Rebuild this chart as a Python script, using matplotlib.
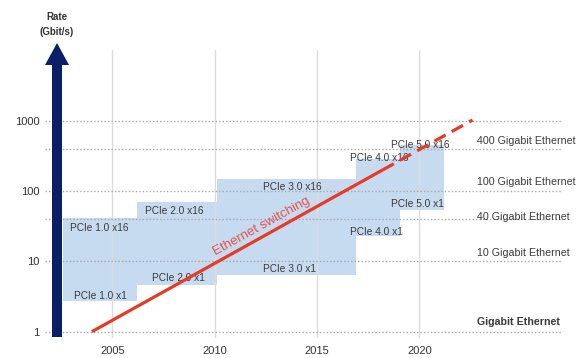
import matplotlib
matplotlib.use("Agg")
import matplotlib.pyplot as plt
from matplotlib.patches import Polygon

plt.rcParams['font.family'] = ['Liberation Sans', 'DejaVu Sans']

# ---- data ----
gen_edges = [2002.6, 2006.2, 2010.1, 2016.9, 2019.05, 2021.2]   # PCIe generation start years
x1_rate = [2.7, 4.6, 6.3, 23, 54]          # PCIe x1 bandwidth (Gbit/s)
x16_rate = [41, 70, 148, 290, 450]         # PCIe x16 bandwidth (Gbit/s)

eth_years_solid = [2004.0, 2018.2]
eth_rate_solid = [1, 199]
eth_years_dash = [2018.2, 2022.6]
eth_rate_dash = [199, 1023]

eth_levels = [1, 10, 40, 100, 400, 1000]
eth_labels = ["Gigabit Ethernet", "10 Gigabit Ethernet", "40 Gigabit Ethernet",
              "100 Gigabit Ethernet", "400 Gigabit Ethernet"]
eth_label_vals = [1.39, 13.3, 42.4, 136, 515]

pcie_labels = ["PCIe 1.0 x16", "PCIe 1.0 x1", "PCIe 2.0 x16", "PCIe 2.0 x1",
               "PCIe 3.0 x16", "PCIe 3.0 x1", "PCIe 4.0 x16", "PCIe 4.0 x1",
               "PCIe 5.0 x16", "PCIe 5.0 x1"]
pcie_label_x = [2002.93, 2003.13, 2006.6, 2006.94, 2012.36, 2012.36,
                2016.61, 2016.61, 2018.61, 2018.61]
pcie_label_y = [29.8, 3.22, 52.5, 5.8, 114, 7.79, 295, 26.2, 452, 65.5]

year_ticks = [2005, 2010, 2015, 2020]
rate_ticks = [1, 10, 100, 1000]

# ---- figure ----
W, H = 583, 358
fig = plt.figure(figsize=(W / 100, H / 100), dpi=100)
ax = fig.add_axes([45 / W, (H - 338) / H, (563 - 45) / W, (338 - 50) / H])
ax.set_yscale('log')
ax.set_xlim(2001.712, 2027.017)
ax.set_ylim(0.8136, 10120)

for s in ax.spines.values():
    s.set_visible(False)

# grid
for yr in year_ticks:
    ax.axvline(yr, color='#dcdcdc', lw=1.0, zorder=1)
for lv in eth_levels:
    ax.axhline(lv, color='#a8a8a8', lw=1.0, ls=(0, (1, 1.5)), zorder=2)

# PCIe band
xs = gen_edges
lo = x1_rate + [x1_rate[-1]]
hi = x16_rate + [x16_rate[-1]]
ax.fill_between(xs, lo, hi, step='post', color='#c6dbef', lw=0, zorder=0.5)

# labels
for t, x, y in zip(pcie_labels, pcie_label_x, pcie_label_y):
    ax.text(x, y, t, fontsize=7.3, color='#3a3a3a', ha='left', va='center', zorder=3)

for i, (t, y) in enumerate(zip(eth_labels, eth_label_vals)):
    ax.text(2022.82, y, t, fontsize=7.7, color='#3a3a3a', ha='left', va='center',
            fontweight='bold' if i == 0 else 'normal', zorder=3, clip_on=False)

# Ethernet line
ax.plot(eth_years_solid, eth_rate_solid, color='#e63b26', lw=2.3, solid_capstyle='butt', zorder=4)
ax.plot(eth_years_dash, eth_rate_dash, color='#e63b26', lw=2.3, ls=(0, (4, 2.2)), zorder=4)
ax.text(2012.31, 31.8, "Ethernet switching", fontsize=9.5, color='#e5534b',
        rotation=29, ha='center', va='center', rotation_mode='anchor', zorder=3)

# ticks
ax.set_xticks(year_ticks)
ax.set_xticklabels([str(y) for y in year_ticks])
ax.set_yticks(rate_ticks)
ax.set_yticklabels([str(r) for r in rate_ticks])
ax.minorticks_off()
ax.tick_params(axis='both', length=0, labelsize=8, colors='#333333')
ax.tick_params(axis='x', pad=6)
ax.tick_params(axis='y', pad=4)

# axis arrow
def fp(x, y):
    return (x / W, (H - y) / H)

arrow_pts = [fp(52, 337), fp(62, 337), fp(62, 65), fp(69, 65), fp(57, 43),
             fp(45, 65), fp(52, 65)]
fig.patches.append(Polygon(arrow_pts, closed=True, transform=fig.transFigure,
                           facecolor='#0b1f66', edgecolor='none', zorder=5))

fig.text(57 / W, (H - 17) / H, "Rate", fontsize=7, fontweight='bold',
         color='#333333', ha='center', va='center')
fig.text(57 / W, (H - 32) / H, "(Gbit/s)", fontsize=7, fontweight='bold',
         color='#333333', ha='center', va='center')

fig.savefig("out.png", dpi=100, facecolor='white')
